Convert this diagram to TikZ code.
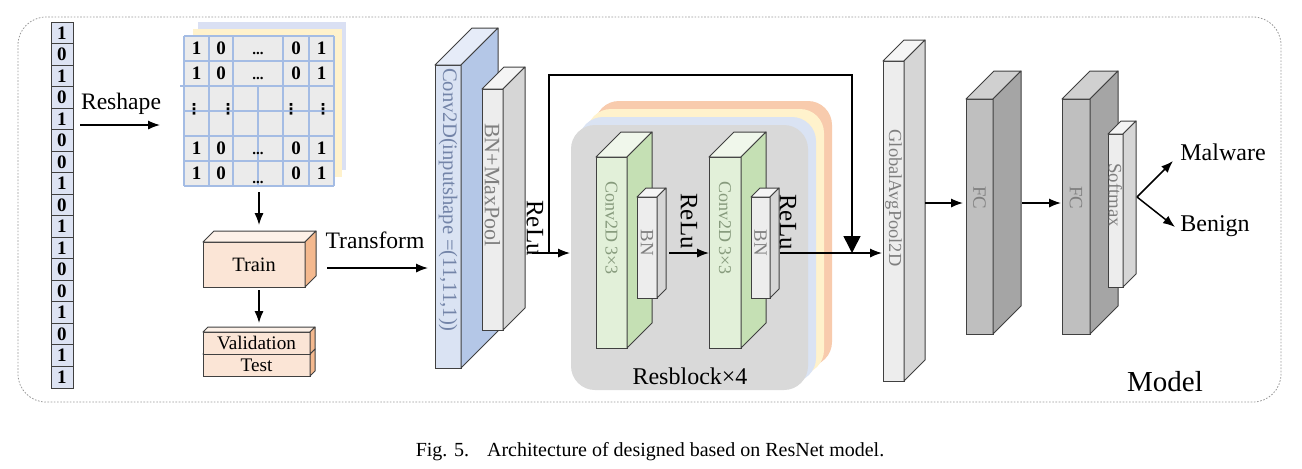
\documentclass[tikz,border=0pt]{standalone}
\usepackage{fontspec}
\setmainfont{Liberation Serif}
\newfontfamily\djv{DejaVu Sans}
\usetikzlibrary{arrows.meta,calc}
\definecolor{edge}{HTML}{404040}
\definecolor{pkF}{HTML}{FBE5D6}\definecolor{pkT}{HTML}{FDF1E8}\definecolor{pkS}{HTML}{F4B98F}
\definecolor{blF}{HTML}{DAE3F3}\definecolor{blT}{HTML}{E6ECF8}\definecolor{blS}{HTML}{B4C7E7}
\definecolor{gyF}{HTML}{EDEDED}\definecolor{gyT}{HTML}{F5F5F5}\definecolor{gyS}{HTML}{D6D6D6}
\definecolor{gnF}{HTML}{E2F0D9}\definecolor{gnT}{HTML}{F0F7EB}\definecolor{gnS}{HTML}{C5E0B4}
\definecolor{dkF}{HTML}{BFBFBF}\definecolor{dkT}{HTML}{D0D0D0}\definecolor{dkS}{HTML}{A5A5A5}
\definecolor{rbG}{HTML}{D9D9D9}\definecolor{rbB}{HTML}{DAE3F3}\definecolor{rbY}{HTML}{FFF2CC}\definecolor{rbO}{HTML}{F8CBAD}
\definecolor{bitF}{HTML}{DDE3F3}
\definecolor{gridL}{HTML}{A4BCE4}\definecolor{gridF}{HTML}{EBEBEB}
\definecolor{lyB}{HTML}{DAE0F3}\definecolor{lyY}{HTML}{FFF2CC}
\definecolor{txBl}{HTML}{7384A8}\definecolor{txGy}{HTML}{7F7F7F}\definecolor{txGn}{HTML}{869A7C}
\newcommand\fsz[1]{\fontsize{#1}{#1}\selectfont}
\newcommand\cuboid[9]{%
 \node[draw=edge, line width=0.5pt, fill=#7, minimum width={(#4-#2)*0.5pt}, minimum height={(#5-#3)*0.5pt}, inner sep=0pt, outer sep=0pt] (#1) at ({(#2+#4)/2},{(#3+#5)/2}) {};
 \draw[draw=edge, line width=0.5pt, fill=#8, line join=round] (#1.north west) -- ++(#6,-#6) -- ++({#4-#2},0) -- (#1.north east) -- cycle;
 \draw[draw=edge, line width=0.5pt, fill=#9, line join=round] (#1.north east) -- ++(#6,-#6) -- ++(0,{#5-#3}) -- (#1.south east) -- cycle;
}
\tikzset{
 arr/.style={-{Latex[length=6pt,width=4.6pt]}, line width=0.75pt},
 bigarr/.style={-{Triangle[length=8.5pt,width=8.5pt]}, line width=0.75pt},
 vlbl/.style={rotate=-90, inner sep=0pt},
 bit/.style={draw=edge, line width=0.5pt, fill=bitF, minimum width=11pt, minimum height={21.53*0.5pt}, inner sep=0pt, font=\fsz{9.5}\bfseries},
 cell/.style={inner sep=0pt, font=\fsz{9.5}\bfseries},
 dots/.style={inner sep=0pt, font=\fsz{7.5}\bfseries},
 vdot/.style={inner sep=0pt, font=\djv\fsz{7.5}\bfseries},
}
\begin{document}
\begin{tikzpicture}[x=0.5pt,y=-0.5pt]
\useasboundingbox (0,0) rectangle (1302,468);
\fill[white] (0,0) rectangle (1302,468);
% outer frame
\draw[gray!80, line width=0.4pt, dash pattern=on 0.8pt off 0.8pt, rounded corners=14pt] (18,17) rectangle (1281,402);
\node[inner sep=0pt, font=\fsz{14.5}] (model) at (1165,382) {Model};
% bit column
\foreach \v [count=\i] in {1,0,1,0,1,0,0,1,0,1,1,0,0,1,0,1,1}{
 \node[bit] (b\i) at (62,{22+(\i-0.5)*21.53}) {\v};
}
% reshape arrow
\coordinate (rs1) at (80,125);
\coordinate (rs2) at (160,125);
\draw[arr] (rs1) -- (rs2);
\node[inner sep=0pt, font=\fsz{11.8}] (rshl) at (121,104) {Reshape};
% grid with layers
\fill[lyB] (198,22) rectangle (346,170);
\fill[lyY] (193,29) rectangle (342,177);
\node[fill=gridF, minimum width=75pt, minimum height=75pt, inner sep=0pt, outer sep=0pt] (grid) at (259,111) {};
\begin{scope}[gridL, line width=0.6pt]
 \foreach \xx in {184,209,233,283,309,334} \draw (\xx,36) -- (\xx,186);
 \foreach \yy in {36,61,111,136,161,186} \draw (184,\yy) -- (334,\yy);
 \draw (180,86) -- (334,86);
 \draw (258,86) -- (258,186);
\end{scope}
\foreach \yy/\dy in {48.5/6,73.5/6,148.5/6,173.5/10}{
 \node[cell] (c1\yy) at (196.5,\yy) {1};
 \node[cell] (c2\yy) at (221,\yy) {0};
 \node[dots, anchor=base] (c3\yy) at (258,\yy+\dy) {...};
 \node[cell] (c4\yy) at (296,\yy) {0};
 \node[cell] (c5\yy) at (321.5,\yy) {1};
}
\foreach \xx [count=\k] in {194,228,291,323}{
 \node[vdot] (vd\k) at (\xx,109) {⋮};
}
% train / validation / test
\cuboid{train}{203}{242}{305}{287}{11}{pkF}{pkT}{pkS}
\node[inner sep=0pt, font=\fsz{10.2}] (trl) at (train) {Train};
\cuboid{test}{203}{354}{310}{376}{5}{pkF}{pkT}{pkS}
\cuboid{valid}{203}{332}{310}{354}{5}{pkF}{pkT}{pkS}
\node[inner sep=0pt, font=\fsz{9.6}] (vl) at (valid) {Validation};
\node[inner sep=0pt, font=\fsz{9.6}] (tl) at (test) {Test};
\draw[arr, shorten <=3pt, shorten >=8.5pt] (grid.south) -- (grid.south |- train.north);
\draw[arr, shorten <=1.5pt, shorten >=4.5pt] (grid.south |- train.south) -- (grid.south |- valid.north);
% transform
\coordinate (tf) at (327,268);
\node[inner sep=0pt, font=\fsz{11.8}] (tfl) at (375,240) {Transform};
% first conv + bn/maxpool
\cuboid{conv1}{435}{65}{461}{368}{37}{blF}{blT}{blS}
\node[vlbl, font=\fsz{10.3}, text=txBl] (conv1l) at (448,200) {Conv2D(inputshape =(11,11,1))};
\cuboid{bnmp}{482}{89}{503}{330}{22}{gyF}{gyT}{gyS}
\node[vlbl, font=\fsz{11}, text=txGy] (bnmpl) at (492.5,185) {BN+MaxPool};
\draw[arr, shorten >=3.5pt] (tf) -- (tf -| conv1.west);
\node[vlbl, font=\fsz{12.5}] (relu1) at (535,228) {ReLu};
% resblock stack
\fill[rbO, rounded corners=12pt] (595,101) rectangle (832,366);
\fill[rbY, rounded corners=12pt] (587,109) rectangle (824,374);
\fill[rbB, rounded corners=12pt] (579,117) rectangle (816,382);
\node[fill=rbG, rounded corners=12pt, minimum width={237*0.5pt}, minimum height={265*0.5pt}, inner sep=0pt, outer sep=0pt] (rb) at (689.5,257.5) {};
\node[inner sep=0pt, font=\fsz{12}] (rbl) at (690,376) {Resblock×4};
\cuboid{g1}{596}{157}{627}{348}{25}{gnF}{gnT}{gnS}
\node[vlbl, font=\fsz{9}, text=txGn] (g1l) at (611.5,228) {Conv2D 3×3};
\cuboid{bn1}{637}{197}{657}{298}{9}{gyF}{gyT}{gyS}
\node[vlbl, font=\fsz{9.4}, text=txGy] (bn1l) at (647,243) {BN};
\cuboid{g2}{709}{157}{741}{348}{25}{gnF}{gnT}{gnS}
\node[vlbl, font=\fsz{9}, text=txGn] (g2l) at (725,228) {Conv2D 3×3};
\cuboid{bn2}{751}{197}{770}{298}{9}{gyF}{gyT}{gyS}
\node[vlbl, font=\fsz{9.4}, text=txGy] (bn2l) at (760.5,243) {BN};
\node[vlbl, font=\fsz{12.5}] (relu2) at (689,221) {ReLu};
\node[vlbl, font=\fsz{12.5}] (relu3) at (788,222) {ReLu};
% main flow and skip
\coordinate (r1e) at (532,253);
\coordinate (jn) at (549,253);
\coordinate (sk) at (852,75);
\draw[arr, shorten >=0.5pt] (r1e) -- (r1e -| rb.west);
\draw[bigarr] (jn) |- (sk) -- (sk |- jn);
\coordinate (r2s) at (669,253);
\draw[arr] (r2s) -- (r2s -| g2.west);
% global avg pool
\cuboid{gap}{883}{61}{904}{381}{21}{gyF}{gyT}{gyS}
\node[vlbl, font=\fsz{9.2}, text=txGy] (gapl) at (893.5,198) {GlobalAvgPool2D};
\coordinate (r3s) at (780,253);
\draw[arr, shorten >=0.5pt] (r3s) -- (r3s -| gap.west);
% FC layers
\cuboid{fc1}{966}{99}{993}{334}{28}{dkF}{dkT}{dkS}
\node[vlbl, font=\fsz{9.4}, text=txGy] (fc1l) at (979.5,198) {FC};
\cuboid{fc2}{1062}{99}{1090}{334}{28}{dkF}{dkT}{dkS}
\node[vlbl, font=\fsz{9.4}, text=txGy] (fc2l) at (1076,198) {FC};
\cuboid{soft}{1108}{134}{1123}{287}{13}{gyF}{gyT}{gyS}
\node[vlbl, font=\fsz{9.4}, text=txGy] (softl) at (1115.5,195) {Softmax};
\coordinate (gs) at (925,203);
\draw[arr, shorten >=1.5pt] (gs) -- (gs -| fc1.west);
\coordinate (fs) at (1022,203);
\draw[arr, shorten >=0.5pt] (fs) -- (fs -| fc2.west);
% outputs
\coordinate (ss) at (1137,197);
\node[inner sep=0pt, anchor=west, font=\fsz{12}] (mal) at (1180,152) {Malware};
\node[inner sep=0pt, anchor=west, font=\fsz{12}] (ben) at (1180,226) {Benign};
\coordinate (me) at (1173,161);
\coordinate (be) at (1175,227);
\draw[arr] (ss) -- (me);
\draw[arr] (ss) -- (be);
% caption
\node[inner sep=0pt, font=\fsz{10}] (cap) at (650,452) {Fig. 5.\hspace{9pt}Architecture of designed based on ResNet model.};
\end{tikzpicture}
\end{document}
